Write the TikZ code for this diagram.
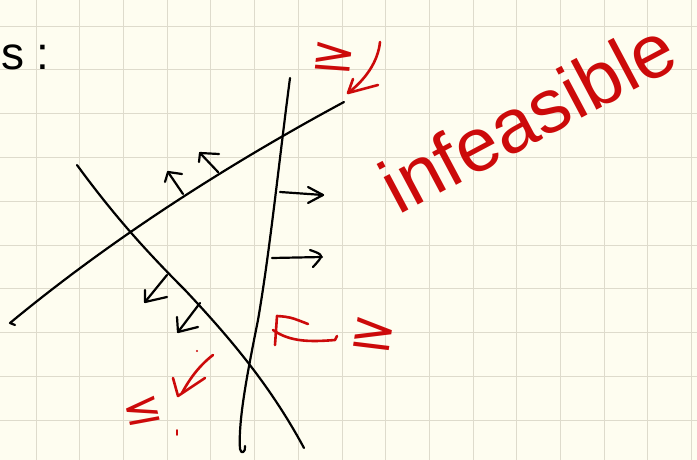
\documentclass[tikz,border=0pt]{standalone}
\usepackage{fontspec}
\setmainfont{Liberation Sans}
\newfontfamily\symfont{DejaVu Sans}
\definecolor{paper}{HTML}{FEFDF0}
\definecolor{gridc}{HTML}{DEDBCC}
\definecolor{redink}{HTML}{CC0A0A}
\tikzset{
  ink/.style={black, line width=2.2pt, line cap=round, line join=round},
  rink/.style={redink, line width=2.6pt, line cap=round, line join=round},
  gridline/.style={gridc, line width=0.8pt},
  redtext/.style={redink, inner sep=0pt},
}
\begin{document}
\begin{tikzpicture}[x=1pt, y=-1pt]
\fill[paper] (0,0) rectangle (697,460);
\useasboundingbox (0,0) rectangle (697,460);
% grid
\foreach \k in {0,...,15} { \draw[gridline] ({36+43.7*\k},0) -- ({36+43.7*\k},460); }
\foreach \k in {0,...,9} { \draw[gridline] (0,{26+43.8*\k}) -- (697,{26+43.8*\k}); }

% heading
\node[anchor=base west, inner sep=0pt, font=\fontsize{46}{46}\selectfont] (head) at (1,70) {s :};

% line A (rising)
\coordinate (a0) at (10,323);
\coordinate (a1) at (344,102);
\draw[ink] (15,325) -- (a0) .. controls (120,232) and (240,158) .. (a1);
% line B (falling)
\coordinate (b0) at (77,165);
\coordinate (b1) at (304,448);
\draw[ink] (b0) .. controls (110,210) and (140,245) .. (185,290)
  .. controls (230,338) and (270,385) .. (b1);
% line C (near vertical)
\coordinate (c0) at (290,78);
\coordinate (c1) at (240,449);
\draw[ink] (c0) .. controls (278,170) and (270,250) .. (258,320)
  .. controls (248,370) and (238,420) .. (c1) .. controls (241,455) and (246,452) .. (245,446);

% black arrows on A
\draw[ink] (183,194) -- (168,172); \draw[ink] (165,182) -- (168,172) -- (182,174);
\draw[ink] (218,172) -- (200,153); \draw[ink] (199,162) -- (200,153) -- (219,154);
% black arrows on C
\draw[ink] (280,192) -- (323,195); \draw[ink] (308,187) -- (323,195) -- (308,203);
\draw[ink] (272,258) -- (322,257); \draw[ink] (310,250) .. controls (324,255) .. (313,267);
% black arrows on B
\draw[ink] (167,275) -- (145,302); \draw[ink] (145,290) -- (145,302) -- (167,297);
\draw[ink] (200,303) -- (178,332); \draw[ink] (177,317) -- (178,332) -- (198,327);

% red marks top
\node[redtext, font=\symfont\fontsize{46}{46}\selectfont, xscale=1.2, rotate=-5] (ge1) at (334,57) {≥};
\draw[rink] (380,42) .. controls (378,62) and (365,80) .. (348,93);
\draw[rink] (353,79) -- (348,93) -- (378,85);

% infeasible
\node[redtext, anchor=base west, rotate=28, font=\fontsize{76}{76}\selectfont] (inf) at (398,216) {infeasible};

% red marks bottom right
\draw[rink] (275,345) -- (277,316) .. controls (290,317) .. (308,324);
\draw[rink] (273,330) .. controls (290,342) and (310,342) .. (335,340) -- (337,336);
\node[redtext, font=\symfont\fontsize{50}{50}\selectfont, xscale=1.15, rotate=-8] (ge2) at (374,334) {≥};

% red marks bottom left
\draw[rink] (213,355) .. controls (200,365) and (190,378) .. (182,393);
\draw[rink] (173,378) -- (178,396) -- (205,378);
\fill[redink] (197,351) circle (1.2pt);
\draw[rink, line width=1.6pt] (177,430) -- (177,435);
\node[redtext, font=\symfont\fontsize{42}{42}\selectfont, xscale=1.15, rotate=12] (le1) at (142,411) {≤};
\end{tikzpicture}
\end{document}
